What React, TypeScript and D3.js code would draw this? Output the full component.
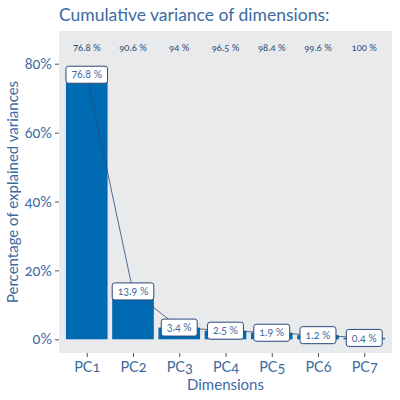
import { useEffect, useRef } from "react"
import * as d3 from "d3"

const dims = ["PC1", "PC2", "PC3", "PC4", "PC5", "PC6", "PC7"]
const variance = [76.8, 13.9, 3.4, 2.5, 1.9, 1.2, 0.4]
const cumulative = ["76.8", "90.6", "94", "96.5", "98.4", "99.6", "100"]
const yTicks = [0, 20, 40, 60, 80]

const FONT = "Lato, 'Open Sans', sans-serif"
const TEXT = "#3d6aa0"
const DARK = "#2b4a7a"
const BAR = "#006ab3"

export default function App() {
  const svgRef = useRef<SVGSVGElement>(null)

  useEffect(() => {
    if (!svgRef.current) return
    const svg = d3.select(svgRef.current)
    svg.selectAll("*").remove()

    const panel = { left: 59, right: 392, top: 31, bottom: 353 }

    const x = d3
      .scalePoint<string>()
      .domain(dims)
      .range([panel.left + 0.6 * 46.25, panel.right - 0.6 * 46.25])
    const step = x.step()
    const barW = step * 0.9

    const y = d3.scaleLinear().domain([0, 80]).range([339.3, 63.7])

    svg
      .append("rect")
      .attr("x", panel.left)
      .attr("y", panel.top)
      .attr("width", panel.right - panel.left)
      .attr("height", panel.bottom - panel.top)
      .attr("fill", "#e9eaec")

    // title
    svg
      .append("text")
      .attr("x", panel.left)
      .attr("y", 21)
      .attr("fill", TEXT)
      .style("font-size", "17.5px")
      .text("Cumulative variance of dimensions:")

    // bars
    svg
      .selectAll(".bar")
      .data(variance)
      .enter()
      .append("rect")
      .attr("x", (d, i) => (x(dims[i]) as number) - barW / 2)
      .attr("y", (d) => y(d))
      .attr("width", barW)
      .attr("height", (d) => y(0) - y(d))
      .attr("fill", BAR)

    // line through values
    const line = d3
      .line<number>()
      .x((d, i) => x(dims[i]) as number)
      .y((d) => y(d))
    svg
      .append("path")
      .attr("d", line(variance))
      .attr("fill", "none")
      .attr("stroke", DARK)
      .attr("stroke-width", 0.8)

    // value labels
    const lab = svg
      .selectAll(".lab")
      .data(variance)
      .enter()
      .append("g")
      .attr("transform", (d, i) => `translate(${x(dims[i])},${y(d)})`)
    const box = lab
      .append("rect")
      .attr("y", -8.5)
      .attr("height", 17)
      .attr("rx", 2.5)
      .attr("fill", "#fff")
      .attr("stroke", DARK)
      .attr("stroke-width", 1)
    const labText = lab
      .append("text")
      .attr("text-anchor", "middle")
      .attr("dy", "0.35em")
      .attr("fill", TEXT)
      .style("font-size", "10.5px")
      .text((d) => `${d} %`)
    labText.each(function (d, i) {
      const w = (this as SVGTextElement).getComputedTextLength() + 11
      d3.select(box.nodes()[i]).attr("x", -w / 2).attr("width", w)
    })

    // cumulative labels
    svg
      .selectAll(".cum")
      .data(cumulative)
      .enter()
      .append("text")
      .attr("x", (d, i) => x(dims[i]) as number)
      .attr("y", 51)
      .attr("text-anchor", "middle")
      .attr("fill", DARK)
      .style("font-size", "9.5px")
      .text((d) => `${d} %`)

    // y axis
    const yAxis = svg
      .append("g")
      .attr("transform", `translate(${panel.left},0)`)
      .call(
        d3
          .axisLeft(y)
          .tickValues(yTicks)
          .tickSize(4)
          .tickPadding(3)
          .tickFormat((d) => `${d}%`)
      )
    yAxis.select(".domain").remove()
    yAxis.selectAll("line").attr("stroke", "#555")
    yAxis
      .selectAll("text")
      .attr("fill", TEXT)
      .style("font-size", "14.5px")
      .style("font-family", FONT)

    // x axis
    const xAxis = svg
      .append("g")
      .attr("transform", `translate(0,${panel.bottom})`)
      .call(d3.axisBottom(x).tickSize(4).tickPadding(5))
    xAxis.select(".domain").remove()
    xAxis.selectAll("line").attr("stroke", "#555")
    xAxis
      .selectAll("text")
      .attr("fill", TEXT)
      .style("font-size", "14.5px")
      .style("font-family", FONT)

    svg
      .append("text")
      .attr("x", (panel.left + panel.right) / 2)
      .attr("y", 390)
      .attr("text-anchor", "middle")
      .attr("fill", TEXT)
      .style("font-size", "15px")
      .text("Dimensions")

    svg
      .append("text")
      .attr("transform", `translate(18,${(panel.top + panel.bottom) / 2}) rotate(-90)`)
      .attr("text-anchor", "middle")
      .attr("fill", TEXT)
      .style("font-size", "15px")
      .text("Percentage of explained variances")
  }, [])

  return (
    <svg
      ref={svgRef}
      width={400}
      height={400}
      style={{
        position: "absolute",
        left: 0,
        top: 0,
        background: "#fff",
        fontFamily: FONT,
        fontVariantNumeric: "oldstyle-nums",
      }}
    />
  )
}
